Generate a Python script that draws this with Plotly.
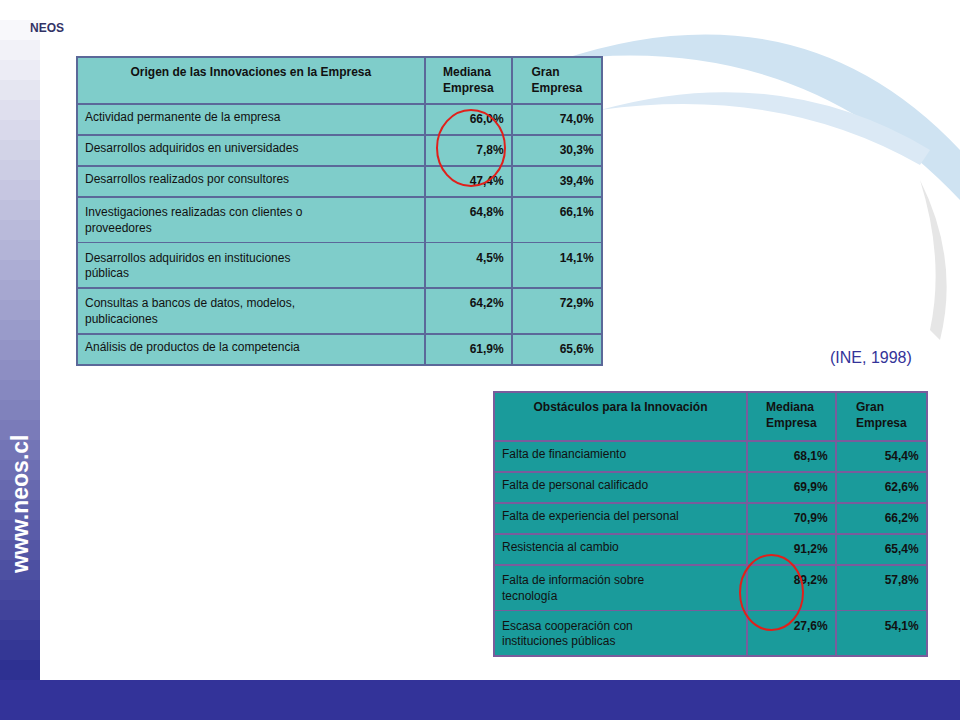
import plotly.graph_objects as go

W, H = 960, 720

origen = [
    "Actividad permanente de la empresa",
    "Desarrollos adquiridos en universidades",
    "Desarrollos realizados por consultores",
    "Investigaciones realizadas con clientes o<br>proveedores",
    "Desarrollos adquiridos en instituciones<br>públicas",
    "Consultas a bancos de datos, modelos,<br>publicaciones",
    "Análisis de productos de la competencia",
]
origen_mediana = ["66,0%", "7,8%", "47,4%", "64,8%", "4,5%", "64,2%", "61,9%"]
origen_gran = ["74,0%", "30,3%", "39,4%", "66,1%", "14,1%", "72,9%", "65,6%"]

obstaculos = [
    "Falta de financiamiento",
    "Falta de personal calificado",
    "Falta de experiencia del personal",
    "Resistencia al cambio",
    "Falta de información sobre<br>tecnología",
    "Escasa cooperación con<br>instituciones públicas",
]
obst_mediana = ["68,1%", "69,9%", "70,9%", "91,2%", "89,2%", "27,6%"]
obst_gran = ["54,4%", "62,6%", "66,2%", "65,4%", "57,8%", "54,1%"]

FONT = "Liberation Sans, Arial"


def px_x(x):
    return x / W


def px_y(y):
    return 1 - y / H


fig = go.Figure()

# left table
fig.add_trace(go.Table(
    domain=dict(x=[px_x(77), px_x(602)], y=[px_y(372), px_y(57)]),
    columnwidth=[348, 87, 90],
    header=dict(
        values=["<b>Origen de las Innovaciones en la Empresa</b>",
                "<b>Mediana<br>Empresa</b>", "<b>Gran<br>Empresa</b>"],
        fill_color="#7fcdca", line_color="#5b6899", line_width=1.5,
        align="center", height=47, font=dict(family=FONT, size=12, color="#111")),
    cells=dict(
        values=[origen, ["<b>%s</b>" % v for v in origen_mediana],
                ["<b>%s</b>" % v for v in origen_gran]],
        fill_color="#7fcdca", line_color="#5b6899", line_width=1.5,
        align=["left", "right", "right"], height=31,
        font=dict(family=FONT, size=12, color="#111")),
))

# right table
fig.add_trace(go.Table(
    domain=dict(x=[px_x(494), px_x(927)], y=[px_y(660), px_y(392)]),
    columnwidth=[253, 89, 91],
    header=dict(
        values=["<b>Obstáculos para la Innovación</b>",
                "<b>Mediana<br>Empresa</b>", "<b>Gran<br>Empresa</b>"],
        fill_color="#1a9b9b", line_color="#7a5c9c", line_width=1.5,
        align="center", height=49, font=dict(family=FONT, size=12, color="#111")),
    cells=dict(
        values=[obstaculos, ["<b>%s</b>" % v for v in obst_mediana],
                ["<b>%s</b>" % v for v in obst_gran]],
        fill_color="#1a9b9b", line_color="#7a5c9c", line_width=1.5,
        align=["left", "right", "right"], height=31,
        font=dict(family=FONT, size=12, color="#111")),
))

shapes = []
# decorative swooshes top right
shapes.append(dict(type="path", xref="paper", yref="paper", layer="below",
                   path="M %f %f Q %f %f %f %f L %f %f Q %f %f %f %f Z" % (
                       px_x(560), px_y(60), px_x(800), px_y(-20), px_x(960), px_y(150),
                       px_x(960), px_y(200), px_x(800), px_y(30), px_x(560), px_y(60)),
                   fillcolor="#cfe3f2", line_width=0))
shapes.append(dict(type="path", xref="paper", yref="paper", layer="below",
                   path="M %f %f Q %f %f %f %f L %f %f Q %f %f %f %f Z" % (
                       px_x(600), px_y(110), px_x(780), px_y(60), px_x(930), px_y(150),
                       px_x(920), px_y(165), px_x(780), px_y(85), px_x(600), px_y(110)),
                   fillcolor="#dbe9f5", line_width=0))
shapes.append(dict(type="path", xref="paper", yref="paper", layer="below",
                   path="M %f %f Q %f %f %f %f L %f %f Q %f %f %f %f Z" % (
                       px_x(920), px_y(180), px_x(960), px_y(260), px_x(940), px_y(340),
                       px_x(930), px_y(330), px_x(945), px_y(260), px_x(920), px_y(180)),
                   fillcolor="#e6e6e6", line_width=0))

# left gradient strip
n = 34
for i in range(n):
    t = i / (n - 1)
    r = int(255 + (46 - 255) * t)
    g = int(255 + (49 - 255) * t)
    b = int(255 + (146 - 255) * t)
    shapes.append(dict(type="rect", xref="paper", yref="paper",
                       x0=0, x1=px_x(40), y0=px_y(i * 680 / n + 680 / n), y1=px_y(i * 680 / n),
                       fillcolor="rgb(%d,%d,%d)" % (r, g, b), line_width=0))
# bottom band
shapes.append(dict(type="rect", xref="paper", yref="paper", x0=0, x1=1,
                   y0=0, y1=px_y(680), fillcolor="#333399", line_width=0))
# red circles
shapes.append(dict(type="circle", xref="paper", yref="paper",
                   x0=px_x(437), x1=px_x(505), y0=px_y(186), y1=px_y(110),
                   line=dict(color="#e0201b", width=2)))
shapes.append(dict(type="circle", xref="paper", yref="paper",
                   x0=px_x(740), x1=px_x(803), y0=px_y(630), y1=px_y(555),
                   line=dict(color="#e0201b", width=2)))

annotations = [
    dict(text="(INE, 1998)", x=px_x(914), y=px_y(357), xref="paper", yref="paper",
         xanchor="right", yanchor="middle", showarrow=False,
         font=dict(family=FONT, size=16, color="#333399")),
    dict(text="<b>www.neos.cl</b>", x=px_x(20), y=px_y(505), xref="paper", yref="paper",
         xanchor="center", yanchor="middle", textangle=-90, showarrow=False,
         font=dict(family="Arial, sans-serif", size=23, color="white")),
    dict(text="<b>NEOS</b>", x=px_x(28), y=px_y(19), xref="paper", yref="paper",
         xanchor="left", showarrow=False,
         font=dict(family=FONT, size=12, color="#333366")),
]

fig.update_layout(width=W, height=H, margin=dict(l=0, r=0, t=0, b=0),
                  paper_bgcolor="white", plot_bgcolor="white",
                  shapes=shapes, annotations=annotations)

fig.write_html("out.html", config={"displayModeBar": False},
               post_script="document.body.style.margin='0';")
